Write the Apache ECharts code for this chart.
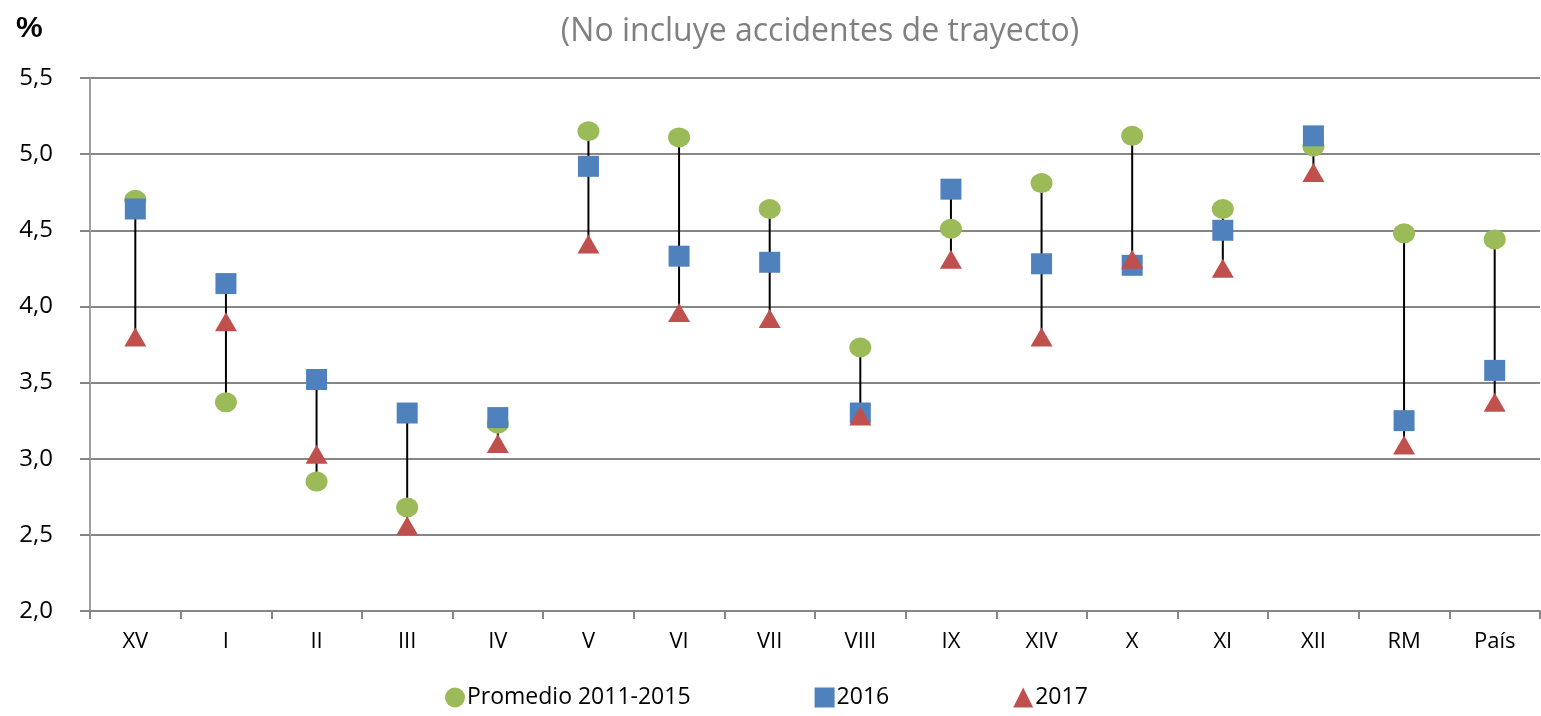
<!DOCTYPE html>
<html>
<head>
<meta charset="utf-8">
<script src="https://cdn.jsdelivr.net/npm/echarts@6/dist/echarts.min.js"></script>
<style>
  html, body { margin: 0; padding: 0; background: #fff; }
  #chart { width: 1541px; height: 716px; }
</style>
</head>
<body>
<div id="chart"></div>
<script>
const categories = ['XV', 'I', 'II', 'III', 'IV', 'V', 'VI', 'VII', 'VIII', 'IX', 'XIV', 'X', 'XI', 'XII', 'RM', 'País'];
const promedio = [4.70, 3.37, 2.85, 2.68, 3.23, 5.15, 5.11, 4.64, 3.73, 4.51, 4.81, 5.12, 4.64, 5.05, 4.48, 4.44];
const y2016 = [4.64, 4.15, 3.52, 3.30, 3.27, 4.92, 4.33, 4.29, 3.30, 4.77, 4.28, 4.27, 4.50, 5.12, 3.25, 3.58];
const y2017 = [3.80, 3.90, 3.03, 2.56, 3.10, 4.41, 3.96, 3.92, 3.28, 4.31, 3.80, 4.31, 4.25, 4.88, 3.09, 3.37];

(() => {
  const target = document.querySelector('#chart');
  const chart = echarts.init(target, null, { renderer: 'canvas' });
  const font = '"Open Sans", sans-serif';
  const fmt = (v) => v.toFixed(1).replace('.', ',');

  // high-low line per category, from the three series
  const ranges = categories.map((c, i) => {
    const vals = [promedio[i], y2016[i], y2017[i]];
    return [i, Math.min(...vals), Math.max(...vals)];
  });

  chart.setOption({
    animation: false,
    textStyle: { fontFamily: font },
    title: [
      { text: '(No incluye accidentes de trayecto)', left: 815, top: 11, textAlign: 'center',
        textStyle: { fontSize: 32, fontWeight: 'normal', color: '#808080', fontFamily: font } },
      { text: '%', left: 11, top: 9,
        textStyle: { fontSize: 30, fontWeight: 'bold', color: '#000', fontFamily: 'Liberation Sans, sans-serif' } },
    ],
    legend: {
      bottom: 2,
      left: 440,
      itemGap: 124,
      itemWidth: 20,
      itemHeight: 20,
      textStyle: { fontSize: 23, color: '#000', fontFamily: font, padding: [0, 0, 0, -3] },
      data: [
        { name: 'Promedio 2011-2015', icon: 'circle' },
        { name: '2016', icon: 'rect' },
        { name: '2017', icon: 'triangle' },
      ],
    },
    grid: { left: 90, right: 1, top: 78, bottom: 105 },
    xAxis: {
      type: 'category',
      data: categories,
      boundaryGap: true,
      axisLine: { lineStyle: { color: '#868686', width: 2 } },
      axisTick: { show: true, alignWithLabel: false, length: 8, lineStyle: { color: '#868686', width: 2 } },
      axisLabel: { fontSize: 22, color: '#000', margin: 20, fontFamily: font },
    },
    yAxis: {
      type: 'value',
      min: 2,
      max: 5.5,
      interval: 0.5,
      axisLine: { show: true, lineStyle: { color: '#a0a0a0', width: 2 } },
      axisTick: { show: true, length: 10, lineStyle: { color: '#868686', width: 2 } },
      axisLabel: { fontSize: 24, color: '#000', margin: 37, formatter: fmt, fontFamily: font },
      splitLine: { lineStyle: { color: '#868686', width: 2 } },
    },
    series: [
      {
        type: 'custom',
        silent: true,
        z: 1,
        encode: { x: 0, y: [1, 2] },
        data: ranges,
        renderItem: (params, api) => {
          const lo = api.coord([api.value(0), api.value(1)]);
          const hi = api.coord([api.value(0), api.value(2)]);
          return {
            type: 'line',
            shape: { x1: lo[0], y1: lo[1], x2: hi[0], y2: hi[1] },
            style: { stroke: '#000', lineWidth: 2 },
          };
        },
      },
      {
        name: 'Promedio 2011-2015',
        type: 'scatter',
        symbol: 'circle',
        symbolSize: [22, 20],
        z: 2,
        itemStyle: { color: '#9BBB59', opacity: 1 },
        data: promedio,
      },
      {
        name: '2016',
        type: 'scatter',
        symbol: 'rect',
        symbolSize: 21,
        z: 3,
        itemStyle: { color: '#4F81BD', opacity: 1 },
        data: y2016,
      },
      {
        name: '2017',
        type: 'scatter',
        symbol: 'triangle',
        symbolSize: [22, 19],
        z: 4,
        itemStyle: { color: '#C0504D', opacity: 1 },
        data: y2017,
      },
    ],
  });
})();
</script>
</body>
</html>
